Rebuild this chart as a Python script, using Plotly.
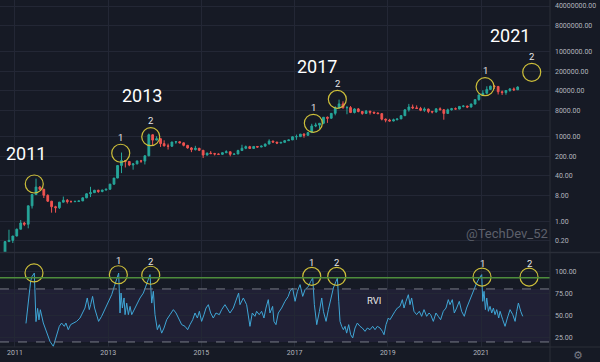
import numpy as np
import pandas as pd
import plotly.graph_objects as go
from plotly.subplots import make_subplots

# ---------------- data (monthly BTC candles) ----------------
start_month = "2010-09-01"
opens = [
    0.06, 0.062, 0.19, 0.21,
    0.30, 0.52, 0.86, 0.78, 3.5, 8.7, 16.1, 13.4, 8.2, 5.1, 3.25, 3.0,
    4.7, 5.5, 4.9, 4.9, 5.0, 5.2, 6.7, 9.3, 10.2, 12.4, 11.2, 12.6,
    13.5, 20.4, 33.4, 93, 139, 129, 97, 106, 135, 133, 204, 1129,
    732, 820, 550, 457, 447, 628, 640, 585, 478, 387, 338, 378,
    320, 217, 254, 244, 236, 230, 263, 284, 230, 236, 313, 377,
    430, 369, 437, 416, 448, 531, 673, 624, 574, 609, 700, 743,
    963, 970, 1190, 1080, 1350, 2300, 2480, 2880, 4700, 4340, 6450, 10000,
    13900, 10200, 10300, 6900, 9250, 7500, 6400, 7730, 7040, 6630, 6300, 4020,
    3740, 3460, 3830, 4100, 5330, 8570, 10820, 10080, 9600, 8300, 9150, 7550,
    7190, 9350, 8600, 6420, 8620, 9450, 9140, 11350, 11660, 10780, 13800, 19700,
    28990, 33100, 45200, 58800, 57700, 37300, 35000, 41500, 47100, 43800,
]
highs = [
    0.07, 0.20, 0.50, 0.30,
    0.55, 1.10, 0.95, 3.5, 9.0, 31.9, 17.5, 14.0, 8.9, 5.2, 3.5, 4.8,
    7.4, 6.1, 5.4, 5.3, 5.3, 6.9, 9.7, 16.4, 12.8, 12.9, 12.9, 13.8,
    20.7, 33.5, 96, 266, 140, 129, 111, 136, 146, 211, 1242, 1160,
    1000, 860, 720, 550, 635, 680, 660, 600, 495, 415, 460, 385,
    320, 265, 300, 260, 247, 268, 320, 285, 243, 335, 502, 470,
    460, 447, 440, 470, 550, 780, 704, 628, 620, 720, 755, 980,
    1150, 1210, 1290, 1420, 2760, 3000, 2920, 4780, 5000, 6470, 11500, 19700,
    17200, 11800, 11700, 9800, 9990, 7770, 8500, 7760, 7400, 7000, 6600, 4240,
    4130, 4200, 4130, 5640, 9070, 13900, 13200, 12320, 10950, 10540, 9500, 7750,
    9550, 10500, 9200, 9460, 10070, 10380, 11450, 12470, 12070, 14100, 19850, 29300,
    41950, 58350, 61700, 64800, 59500, 41300, 42400, 50500, 52900, 58000,
]
lows = [
    0.05, 0.06, 0.19, 0.17,
    0.29, 0.52, 0.67, 0.56, 2.8, 8.7, 12.6, 6.6, 4.8, 2.0, 2.0, 2.7,
    4.6, 4.2, 4.6, 4.7, 4.9, 5.2, 6.5, 7.1, 9.9, 10.0, 10.5, 12.2,
    12.7, 19.4, 33.2, 50, 79, 88, 66, 102, 115, 101, 198, 456,
    730, 420, 440, 340, 420, 540, 565, 440, 365, 275, 315, 300,
    170, 211, 235, 210, 228, 220, 253, 196, 225, 236, 306, 350,
    354, 367, 394, 413, 436, 525, 600, 530, 570, 604, 683, 740,
    750, 940, 890, 1060, 1350, 2100, 1830, 2680, 2970, 4150, 5500, 9500,
    9400, 6000, 6600, 6400, 7000, 5760, 6100, 5880, 6100, 6200, 3650, 3120,
    3350, 3370, 3690, 4070, 5330, 7450, 9100, 9350, 7700, 7300, 6550, 6430,
    6860, 8450, 3850, 6150, 8100, 8900, 8900, 10520, 9880, 10370, 13200, 18000,
    28100, 32300, 45000, 47000, 30000, 28800, 29300, 37300, 39600, 43300,
]
closes = [
    0.062, 0.19, 0.21, 0.30,
    0.52, 0.86, 0.78, 3.5, 8.7, 16.1, 13.4, 8.2, 5.1, 3.25, 3.0, 4.7,
    5.5, 4.9, 4.9, 5.0, 5.2, 6.7, 9.3, 10.2, 12.4, 11.2, 12.6, 13.5,
    20.4, 33.4, 93, 139, 129, 97, 106, 135, 133, 204, 1129, 732,
    820, 550, 457, 447, 628, 640, 585, 478, 387, 338, 378, 320,
    217, 254, 244, 236, 230, 263, 284, 230, 236, 313, 377, 430,
    369, 437, 416, 448, 531, 673, 624, 574, 609, 700, 743, 963,
    970, 1190, 1080, 1350, 2300, 2480, 2880, 4700, 4340, 6450, 10000, 13900,
    10200, 10300, 6900, 9250, 7500, 6400, 7730, 7040, 6630, 6300, 4020, 3740,
    3460, 3830, 4100, 5330, 8570, 10820, 10080, 9600, 8300, 9150, 7550, 7190,
    9350, 8600, 6420, 8620, 9450, 9140, 11350, 11660, 10780, 13800, 19700, 28990,
    33100, 45200, 58800, 57700, 37300, 35000, 41500, 47100, 43800, 55000,
]

# ---------------- RVI (decimal year, value) ----------------
rvi_year = [
    2011.236, 2011.336, 2011.365, 2011.415, 2011.451, 2011.486, 2011.515, 2011.544, 2011.608, 2011.680,
    2011.751, 2011.823, 2011.880, 2011.951, 2012.001, 2012.059, 2012.094, 2012.144, 2012.194, 2012.252,
    2012.323, 2012.395, 2012.452, 2012.502, 2012.552, 2012.595, 2012.624, 2012.666, 2012.709, 2012.752,
    2012.795, 2012.860, 2012.931, 2013.003, 2013.074, 2013.131, 2013.182, 2013.224, 2013.253, 2013.275,
    2013.303, 2013.339, 2013.361, 2013.396, 2013.432, 2013.468, 2013.504, 2013.554, 2013.611, 2013.682,
    2013.754, 2013.804, 2013.861,
    2013.897, 2013.933, 2013.968, 2014.004, 2014.054, 2014.097, 2014.147, 2014.197, 2014.255, 2014.326,
    2014.398, 2014.455, 2014.505, 2014.577, 2014.648, 2014.705, 2014.755, 2014.813, 2014.863, 2014.913,
    2014.956, 2015.005, 2015.056, 2015.099, 2015.149, 2015.199, 2015.256, 2015.313, 2015.385, 2015.435,
    2015.506, 2015.556, 2015.614, 2015.685, 2015.757, 2015.799, 2015.828, 2015.900, 2015.971, 2016.043,
    2016.093, 2016.150, 2016.186, 2016.243, 2016.293, 2016.343, 2016.386, 2016.436, 2016.472, 2016.529,
    2016.558, 2016.601, 2016.651, 2016.722, 2016.794, 2016.865,
    2016.901, 2016.958, 2017.009, 2017.059, 2017.116, 2017.173, 2017.223, 2017.295, 2017.345, 2017.388,
    2017.423, 2017.474, 2017.531, 2017.581, 2017.617, 2017.674, 2017.724, 2017.774, 2017.831, 2017.888,
    2017.917, 2017.946, 2017.974, 2018.010, 2018.046, 2018.082, 2018.117, 2018.160, 2018.203, 2018.246,
    2018.296, 2018.346, 2018.403, 2018.453, 2018.511, 2018.561, 2018.618, 2018.675, 2018.725, 2018.775,
    2018.833, 2018.883, 2018.918, 2018.961, 2019.011, 2019.047, 2019.104, 2019.155, 2019.205, 2019.262,
    2019.312, 2019.348, 2019.391, 2019.441, 2019.476, 2019.512, 2019.562, 2019.619, 2019.676, 2019.726,
    2019.777, 2019.834, 2019.884,
    2019.920, 2019.977, 2020.034, 2020.084, 2020.134, 2020.192, 2020.249, 2020.299, 2020.335, 2020.385,
    2020.428, 2020.478, 2020.535, 2020.585, 2020.642, 2020.692, 2020.749, 2020.800, 2020.850, 2020.907,
    2020.964, 2021.014, 2021.036, 2021.064, 2021.093, 2021.122, 2021.157, 2021.193, 2021.229, 2021.265,
    2021.300, 2021.336, 2021.379, 2021.408, 2021.465, 2021.515, 2021.565, 2021.622, 2021.680, 2021.730,
    2021.765, 2021.801, 2021.851, 2021.894,
]
rvi_value = [
    41, 88.6, 94, 98, 43, 58, 45, 56.5, 41.5, 30,
    20.7, 15, 26.3, 37.7, 41.4, 37.7, 41.4, 33.9, 39.6, 41.4,
    43.3, 47, 52.8, 58.4, 69.8, 56.6, 62.2, 71.6, 58.4, 50.9,
    43.3, 49, 56.6, 64.1, 73.5, 83, 92.4, 98, 52.8, 75.4,
    58.4, 69.8, 50.9, 64, 50.9, 60.3, 50.9, 56.6, 62.2, 69.8,
    75.4, 83, 92.4,
    96.2, 64, 77.3, 50.9, 33.9, 39.6, 30, 35.8, 45.2, 50.9,
    56.6, 52.8, 47.1, 39.6, 37.7, 33.9, 39.6, 45.2, 52.8, 47.1,
    54.7, 43.3, 50.9, 58.4, 62.2, 52.8, 47.1, 52.8, 50.9, 56.6,
    62.2, 58.4, 52.8, 58.4, 67.9, 75.4, 62.2, 69.8, 62.2, 37.7,
    52.8, 49, 54.7, 50.9, 54.7, 47.1, 58.4, 67.9, 52.8, 60.3,
    43.3, 39.6, 52.8, 58.4, 66, 71.6,
    77.3, 81.1, 66, 77.3, 84.9, 71.6, 79.2, 83, 88.6, 92.4,
    62.2, 39.6, 54.7, 69.8, 54.7, 43.3, 56.6, 69.8, 81.1, 88.6,
    92.4, 66, 43.3, 37.7, 33.9, 37.7, 30, 39.6, 28.2, 24.5,
    35.8, 41.4, 37.7, 35.8, 32, 35.8, 33.9, 37.7, 33.9, 37.7,
    35.8, 32, 28.2, 39.6, 47.1, 45.2, 50.9, 54.7, 58.4, 60.3,
    67.9, 58.4, 66, 73.5, 62.2, 69.8, 54.7, 50.9, 54.7, 49,
    56.6, 49, 52.8,
    50.9, 43.3, 52.8, 49, 45.2, 54.7, 58.4, 67.9, 62.2, 67.9,
    52.8, 58.4, 66, 54.7, 49, 58.4, 66, 73.5, 81.1, 86.7,
    92.4, 96.2, 66, 77.3, 56.6, 69.8, 54.7, 60.3, 52.8, 58.4,
    50.9, 56.6, 47.1, 54.7, 45.2, 37.7, 47.1, 56.6, 50.9, 43.3,
    54.7, 64.1, 54.7, 49,
]
rvi_upper, rvi_lower, rvi_signal_level = 80, 20, 92.7

# hand-drawn highlight circles
price_circle_year = [2011.414, 2013.268, 2013.912, 2017.401, 2017.916, 2021.086, 2022.088]
price_circle_val = [20.6, 251, 967, 2877, 20200, 56400, 182000]
price_circle_lbl = ["", "1", "2", "1", "2", "1", "2"]
rvi_circle_year = [2011.408, 2013.217, 2013.912, 2017.367, 2017.903, 2021.021, 2022.030]
rvi_circle_val = [98.1, 96.1, 95.5, 94.3, 94.3, 93.5, 93.5]
rvi_circle_lbl = ["", "1", "2", "1", "2", "1", "2"]

cycle_labels = ["2011", "2013", "2017", "2021"]

price_ticks = [0.2, 1, 8, 40, 200, 1000, 8000, 40000, 200000, 1000000, 8000000, 40000000]
rvi_ticks = [25, 50, 75, 100]


def year_to_dt(y):
    yi = int(np.floor(y))
    return pd.Timestamp(yi, 1, 1) + pd.Timedelta(days=(y - yi) * 365.25)


candle_dates = pd.date_range(start_month, periods=len(closes), freq="MS") + pd.Timedelta(days=14)
rvi_dates = [year_to_dt(y) for y in rvi_year]
pc_dates = [year_to_dt(y) for y in price_circle_year]
rc_dates = [year_to_dt(y) for y in rvi_circle_year]

BG = "#161a25"
GRID = "#232735"
TXT = "#b2b5be"
YEL = "#cdbf3a"
FONT = "Roboto"

# plot area: 550 x 347 px
H_PLOT = 347.0
W_PLOT = 550.0
top_dom = [(H_PLOT - 252) / H_PLOT, 1.0]
bot_dom = [0.0, (H_PLOT - 253) / H_PLOT]

fig = make_subplots(rows=2, cols=1, shared_xaxes=True, vertical_spacing=0.0)

fig.add_trace(go.Candlestick(
    x=candle_dates, open=opens, high=highs, low=lows, close=closes,
    increasing=dict(line=dict(color="#26a69a", width=1), fillcolor="#26a69a"),
    decreasing=dict(line=dict(color="#ef5350", width=1), fillcolor="#ef5350"),
    whiskerwidth=0, showlegend=False, hoverinfo="skip",
), row=1, col=1)

fig.add_trace(go.Scatter(
    x=pc_dates, y=price_circle_val, mode="markers",
    marker=dict(symbol="circle-open", size=18, color=YEL, line=dict(width=1.2)),
    showlegend=False, hoverinfo="skip",
), row=1, col=1)

fig.add_trace(go.Scatter(
    x=rvi_dates, y=rvi_value, mode="lines",
    line=dict(color="#3fa6d6", width=1), showlegend=False, hoverinfo="skip",
), row=2, col=1)

fig.add_trace(go.Scatter(
    x=rc_dates, y=rvi_circle_val, mode="markers",
    marker=dict(symbol="circle-open", size=18, color=YEL, line=dict(width=1.2)),
    showlegend=False, hoverinfo="skip",
), row=2, col=1)

x_range = [year_to_dt(2010.678), year_to_dt(2022.48)]
xcommon = dict(
    range=x_range, type="date", tick0="2011-01-01", dtick="M24", tickformat="%Y",
    showgrid=True, gridcolor=GRID, gridwidth=1, zeroline=False, showline=False,
    ticks="", ticklen=0, automargin=False,
    tickfont=dict(family=FONT, size=7, color=TXT),
)
fig.update_xaxes(**xcommon)
fig.update_xaxes(showticklabels=False, rangeslider=dict(visible=False), row=1, col=1)
fig.update_xaxes(showticklabels=True, row=2, col=1)

ycommon = dict(
    side="right", showgrid=True, gridcolor=GRID, zeroline=False, showline=False,
    ticks="", ticklen=0, automargin=False, ticklabelstandoff=4,
    tickfont=dict(family=FONT, size=7, color=TXT),
)
fig.update_yaxes(
    type="log", range=[-1.088, 7.814], domain=top_dom,
    tickvals=price_ticks, ticktext=[f"{v:.2f}" for v in price_ticks],
    row=1, col=1, **ycommon,
)
fig.update_yaxes(
    range=[14.3, 120.7], domain=bot_dom,
    tickvals=rvi_ticks, ticktext=[f"{v:.2f}" for v in rvi_ticks],
    row=2, col=1, **ycommon,
)

shapes = [
    dict(type="rect", xref="paper", yref="y2", x0=0, x1=1, y0=rvi_lower, y1=rvi_upper,
         fillcolor="rgba(126,87,194,0.10)", line=dict(width=0), layer="below"),
    dict(type="line", xref="paper", yref="y2", x0=0, x1=1, y0=rvi_upper, y1=rvi_upper,
         line=dict(color="#787b86", width=1, dash="dash")),
    dict(type="line", xref="paper", yref="y2", x0=0, x1=1, y0=rvi_lower, y1=rvi_lower,
         line=dict(color="#787b86", width=1, dash="dash")),
    dict(type="line", xref="paper", yref="y2", x0=0, x1=1, y0=rvi_signal_level, y1=rvi_signal_level,
         line=dict(color="#4e8d3c", width=1.5)),
    # pane separators
    dict(type="line", xref="paper", yref="paper", x0=0, x1=600 / W_PLOT,
         y0=(H_PLOT - 252.5) / H_PLOT, y1=(H_PLOT - 252.5) / H_PLOT,
         line=dict(color="#2a2e39", width=1.5)),
    dict(type="line", xref="paper", yref="paper", x0=0, x1=600 / W_PLOT, y0=0, y1=0,
         line=dict(color="#2a2e39", width=1)),
    dict(type="line", xref="paper", yref="paper", x0=1, x1=1, y0=-15 / H_PLOT, y1=1,
         line=dict(color="#2a2e39", width=1)),
]

ann = []
# numbered labels above price circles
for d, v, t in zip(pc_dates, price_circle_val, price_circle_lbl):
    if t:
        ann.append(dict(x=d, y=np.log10(v), xref="x", yref="y", text=t, showarrow=False,
                        yshift=16, font=dict(family=FONT, size=9.5, color="#e8e8e8")))
for d, v, t in zip(rc_dates, rvi_circle_val, rvi_circle_lbl):
    if t:
        ann.append(dict(x=d, y=v, xref="x2", yref="y2", text=t, showarrow=False,
                        yshift=14, font=dict(family=FONT, size=9.5, color="#e8e8e8")))

# big cycle year labels (pixel centres converted to paper)
label_px = [(26, 153), (142, 95), (317, 66), (510, 35)]
for t, (px, py) in zip(cycle_labels, label_px):
    ann.append(dict(x=px / W_PLOT, y=(H_PLOT - py) / H_PLOT, xref="paper", yref="paper",
                    text=t, showarrow=False, xanchor="center", yanchor="middle",
                    font=dict(family=FONT, size=18, color="#ffffff")))

ann.append(dict(x=507 / W_PLOT, y=(H_PLOT - 233) / H_PLOT, xref="paper", yref="paper",
                text="@TechDev_52", showarrow=False, xanchor="center", yanchor="middle",
                font=dict(family=FONT, size=13, color="#5d606b")))
ann.append(dict(x=374 / W_PLOT, y=(H_PLOT - 300) / H_PLOT, xref="paper", yref="paper",
                text="RVI", showarrow=False, xanchor="center", yanchor="middle",
                font=dict(family=FONT, size=9.5, color="#e8e8e8")))
ann.append(dict(x=578 / W_PLOT, y=(H_PLOT - 355) / H_PLOT, xref="paper", yref="paper",
                text="⚙", showarrow=False, xanchor="center", yanchor="middle",
                font=dict(family="DejaVu Sans", size=11, color="#787b86")))

fig.update_layout(
    width=600, height=362,
    margin=dict(l=0, r=50, t=0, b=15, autoexpand=False),
    paper_bgcolor=BG, plot_bgcolor=BG,
    shapes=shapes, annotations=ann,
    showlegend=False, hovermode=False,
    font=dict(family=FONT, color=TXT),
)

fig.write_html(
    "out.html",
    config={"displayModeBar": False, "staticPlot": True},
    post_script="document.body.style.margin='0';document.body.style.background='#161a25';",
)
